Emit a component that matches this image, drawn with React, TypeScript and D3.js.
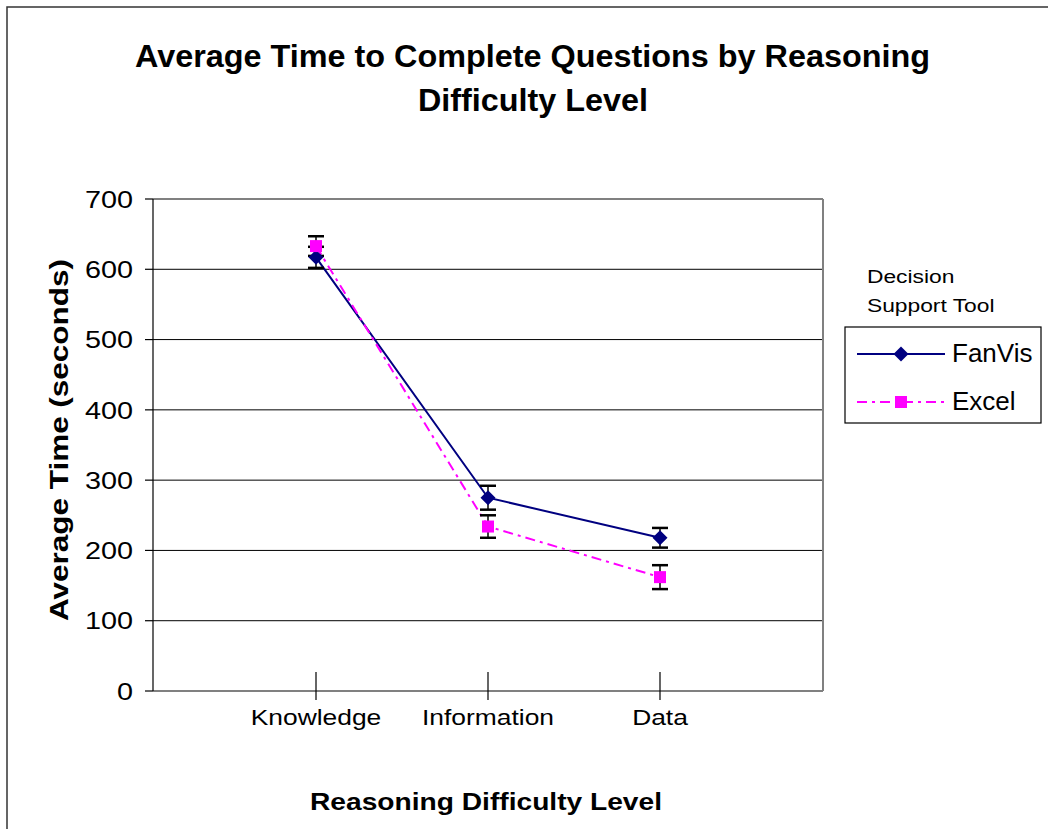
import React from "react";
import * as d3 from "d3";

const categories = ["Knowledge", "Information", "Data"];
const fanvisValues = [617, 275, 218];
const fanvisErrors = [15, 17, 14];
const excelValues = [633, 234, 162];
const excelErrors = [14, 16, 17];
const yTicks = [0, 100, 200, 300, 400, 500, 600, 700];
const seriesNames = ["FanVis", "Excel"];

const W = 1048;
const H = 829;
const plot = { left: 153, right: 823, top: 199, bottom: 691 };
const FONT = "'Liberation Sans', Arial, sans-serif";

export default function App() {
  const x = d3
    .scalePoint<string>()
    .domain(categories)
    .range([plot.left, plot.right])
    .padding(0.9477);
  const y = d3.scaleLinear().domain([0, 700]).range([plot.bottom, plot.top]);

  const line = d3
    .line<number>()
    .x((_, i) => x(categories[i]) as number)
    .y((d) => y(d));

  const diamond = (cx: number, cy: number, r: number) =>
    `M${cx},${cy - r}L${cx + r},${cy}L${cx},${cy + r}L${cx - r},${cy}Z`;

  const errBars = (vals: number[], errs: number[], key: string) =>
    vals.map((v, i) => {
      const cx = x(categories[i]) as number;
      const y1 = y(v + errs[i]);
      const y2 = y(v - errs[i]);
      return (
        <g key={key + i} stroke="#000">
          <line x1={cx} x2={cx} y1={y1} y2={y2} strokeWidth={1.5} />
          <line x1={cx - 8} x2={cx + 8} y1={y1} y2={y1} strokeWidth={2.5} />
          <line x1={cx - 8} x2={cx + 8} y1={y2} y2={y2} strokeWidth={2.5} />
        </g>
      );
    });

  return (
    <svg
      width={W}
      height={H}
      style={{ position: "absolute", left: 0, top: 0, background: "#fff" }}
      fontFamily={FONT}
    >
      {/* outer frame */}
      <rect x={7} y={7} width={1200} height={1000} fill="#fff" stroke="#333" strokeWidth={1.5} />

      {/* title */}
      <text x={135} y={67} fontSize={32} fontWeight="bold" textLength={795} lengthAdjust="spacingAndGlyphs">
        Average Time to Complete Questions by Reasoning
      </text>
      <text x={418} y={111} fontSize={32} fontWeight="bold" textLength={230} lengthAdjust="spacingAndGlyphs">
        Difficulty Level
      </text>

      {/* gridlines */}
      {yTicks.filter((t) => t > 0 && t < 700).map((t) => (
        <line key={"g" + t} x1={plot.left} x2={plot.right} y1={y(t)} y2={y(t)} stroke="#000" strokeWidth={1} />
      ))}
      {/* plot border top/right */}
      <line x1={plot.left} x2={plot.right} y1={plot.top} y2={plot.top} stroke="#808080" strokeWidth={2} />
      <line x1={plot.right} x2={plot.right} y1={plot.top} y2={plot.bottom} stroke="#808080" strokeWidth={2} />
      {/* bottom axis */}
      <line x1={plot.left} x2={plot.right} y1={plot.bottom} y2={plot.bottom} stroke="#808080" strokeWidth={2} />
      {/* left axis */}
      <line x1={plot.left} x2={plot.left} y1={plot.top} y2={plot.bottom} stroke="#000" strokeWidth={1.2} />

      {/* y ticks and labels */}
      {yTicks.map((t) => (
        <g key={"yt" + t}>
          <line x1={145} x2={plot.left} y1={y(t)} y2={y(t)} stroke="#000" strokeWidth={1.2} />
          <text
            transform={`translate(133,${y(t)}) scale(1.2,1)`}
            textAnchor="end"
            dy="0.36em"
            fontSize={24}
          >
            {t}
          </text>
        </g>
      ))}

      {/* x ticks and labels */}
      {categories.map((c) => (
        <g key={"xt" + c}>
          <line x1={x(c)} x2={x(c)} y1={plot.bottom - 19} y2={plot.bottom + 9} stroke="#000" strokeWidth={1.2} />
          <text transform={`translate(${x(c)},725) scale(1.2,1)`} textAnchor="middle" fontSize={22}>
            {c}
          </text>
        </g>
      ))}

      {/* axis titles */}
      <text
        transform={`translate(68,440) rotate(-90)`}
        textAnchor="middle"
        fontSize={25}
        fontWeight="bold"
        textLength={362}
        lengthAdjust="spacingAndGlyphs"
      >
        Average Time (seconds)
      </text>
      <text x={310} y={810} fontSize={24} fontWeight="bold" textLength={352} lengthAdjust="spacingAndGlyphs">
        Reasoning Difficulty Level
      </text>

      {/* series lines */}
      <path d={line(fanvisValues) || ""} fill="none" stroke="#000080" strokeWidth={2} />
      <path d={line(excelValues) || ""} fill="none" stroke="#FF00FF" strokeWidth={2} strokeDasharray="10,5,3,5" />

      {/* error bars */}
      {errBars(fanvisValues, fanvisErrors, "fe")}
      {errBars(excelValues, excelErrors, "ee")}

      {/* markers */}
      {fanvisValues.map((v, i) => (
        <path key={"fm" + i} d={diamond(x(categories[i]) as number, y(v), 7.5)} fill="#000080" />
      ))}
      {excelValues.map((v, i) => (
        <rect key={"em" + i} x={(x(categories[i]) as number) - 6} y={y(v) - 6} width={12} height={12} fill="#FF00FF" />
      ))}

      {/* legend */}
      <text transform="translate(867,283) scale(1.2,1)" fontSize={19}>Decision</text>
      <text transform="translate(867,312) scale(1.2,1)" fontSize={19}>Support Tool</text>
      <rect x={845} y={327} width={196} height={96} fill="#fff" stroke="#000" strokeWidth={1.2} />
      <line x1={857} x2={945} y1={354} y2={354} stroke="#000080" strokeWidth={2} />
      <path d={diamond(901, 354, 7.5)} fill="#000080" />
      <text x={952} y={362} fontSize={26}>{seriesNames[0]}</text>
      <line x1={857} x2={945} y1={402} y2={402} stroke="#FF00FF" strokeWidth={2} strokeDasharray="10,5,3,5" />
      <rect x={895} y={396} width={12} height={12} fill="#FF00FF" />
      <text x={952} y={410} fontSize={26}>{seriesNames[1]}</text>
    </svg>
  );
}
